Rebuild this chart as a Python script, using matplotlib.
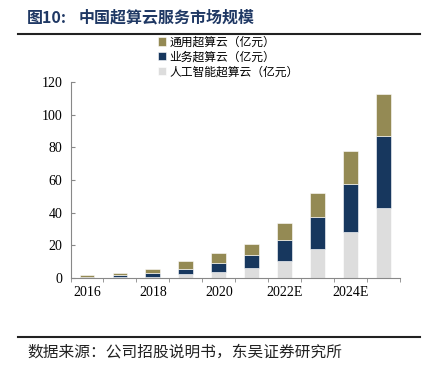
import matplotlib
matplotlib.use("Agg")
import matplotlib.pyplot as plt
import numpy as np

years = ["2016", "2017", "2018", "2019", "2020", "2021", "2022E", "2023E", "2024E", "2025E"]
ai_cloud = [0.3, 0.5, 1.0, 2.3, 3.9, 6.1, 10.8, 17.6, 28.0, 42.7]
biz_cloud = [0.6, 1.2, 2.1, 3.6, 5.3, 7.8, 12.7, 19.8, 29.8, 44.0]
gen_cloud = [0.9, 1.6, 2.6, 4.3, 5.9, 7.2, 10.2, 14.5, 20.0, 25.9]
labels = ["通用超算云（亿元）", "业务超算云（亿元）", "人工智能超算云（亿元）"]
yticks = [0, 20, 40, 60, 80, 100, 120]

c_gen = "#948A54"
c_biz = "#17375E"
c_ai = "#DDDDDD"

cjk = ["Noto Sans CJK SC", "DejaVu Sans"]
serif = ["Liberation Serif", "DejaVu Serif"]

fig = plt.figure(figsize=(4.25, 3.66), dpi=100)
ax = fig.add_axes([0.166, 0.240, 0.775, 0.536])

x = np.arange(len(years))
w = 0.45
ai = np.array(ai_cloud)
bz = np.array(biz_cloud)
gn = np.array(gen_cloud)
b_ai = ax.bar(x, ai, w, color=c_ai, edgecolor="white", linewidth=0.4, label=labels[2])
b_bz = ax.bar(x, bz, w, bottom=ai, color=c_biz, edgecolor="white", linewidth=0.4, label=labels[1])
b_gn = ax.bar(x, gn, w, bottom=ai + bz, color=c_gen, edgecolor="white", linewidth=0.4, label=labels[0])

ax.set_xlim(-0.5, len(years) - 0.5)
ax.set_ylim(0, 120)
ax.set_yticks(yticks)
ax.set_yticklabels([str(v) for v in yticks], fontfamily=serif, fontsize=10)
ax.tick_params(axis="y", direction="in", length=3, color="#888888", pad=6)

ax.set_xticks(x[::2])
ax.set_xticklabels(years[::2], fontfamily=serif, fontsize=10)
ax.set_xticks(np.arange(-0.5, len(years), 1.0), minor=True)
ax.tick_params(axis="x", which="major", length=0, pad=6)
ax.tick_params(axis="x", which="minor", direction="out", length=3, color="#888888")

for s in ["top", "right"]:
    ax.spines[s].set_visible(False)
for s in ["left", "bottom"]:
    ax.spines[s].set_color("#888888")
    ax.spines[s].set_linewidth(0.8)

leg = ax.legend(handles=[b_gn, b_bz, b_ai], labels=labels, loc="upper left",
                bbox_to_anchor=(0.25, 1.26), frameon=False,
                prop={"family": cjk, "size": 8.5}, handlelength=0.7, handleheight=0.7,
                handletextpad=0.3, labelspacing=0.15, borderaxespad=0)

fig.text(0.064, 0.952, "图10:", fontfamily=cjk, fontsize=11.5,
         fontweight="bold", color="#1F3864", va="center", ha="left")
fig.text(0.186, 0.952, "中国超算云服务市场规模", fontfamily=cjk, fontsize=11.5,
         fontweight="bold", color="#1F3864", va="center", ha="left")
fig.add_artist(plt.Line2D([0.042, 0.988], [0.907, 0.907], color="#222222", linewidth=1.5,
                          transform=fig.transFigure))
fig.add_artist(plt.Line2D([0.042, 0.988], [0.078, 0.078], color="#222222", linewidth=1.5,
                          transform=fig.transFigure))
fig.text(0.064, 0.038, "数据来源：公司招股说明书，东吴证券研究所", fontfamily=cjk, fontsize=11.3,
         color="#222222", va="center", ha="left")

fig.savefig("out.png", dpi=100)
